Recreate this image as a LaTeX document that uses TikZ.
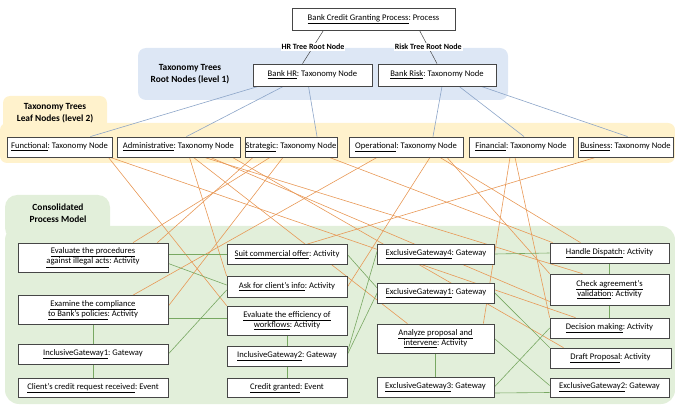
\documentclass[tikz,border=0pt]{standalone}
\usepackage{fontspec}
\setmainfont{Carlito}
\frenchspacing
\definecolor{bluereg}{RGB}{221,231,245}
\definecolor{yellowreg}{RGB}{255,242,204}
\definecolor{greenreg}{RGB}{226,239,218}
\definecolor{oline}{RGB}{232,152,86}
\definecolor{bline}{RGB}{140,165,200}
\definecolor{gline}{RGB}{120,168,98}
\definecolor{boxc}{RGB}{70,70,70}
\pgfdeclarelayer{regions}
\pgfdeclarelayer{edges}
\pgfsetlayers{regions,edges,main}
\begin{document}
\begin{tikzpicture}[x=1pt,y=-1pt,
  box/.style={draw=boxc, fill=white, line width=0.7pt, inner sep=0pt, align=center, font=\fontsize{8.6}{10.5}\selectfont},
  leaf/.style={box, line width=0.9pt, minimum height=20pt},
  reglabel/.style={font=\fontsize{9.4}{12}\selectfont\bfseries, align=center},
  rootlabel/.style={font=\fontsize{8}{9}\selectfont\bfseries, fill=white, inner sep=1pt},
  oe/.style={draw=oline, line width=0.6pt},
  be/.style={draw=bline, line width=0.6pt},
  ge/.style={draw=gline, line width=0.6pt}]
\useasboundingbox (0,0) rectangle (675,406);
% regions
\begin{pgfonlayer}{regions}
\fill[bluereg, rounded corners=8pt] (138,48) rectangle (508,100);
\fill[yellowreg, rounded corners=7pt] (3,96) rectangle (107,135);
\fill[yellowreg, rounded corners=7pt] (0,123) rectangle (675,163);
\fill[greenreg, rounded corners=12pt] (5,195) rectangle (110,240);
\fill[greenreg, rounded corners=14pt] (5,226) rectangle (675,404);
\end{pgfonlayer}
\node[reglabel] (rl1) at (190,74) {Taxonomy Trees\\Root Nodes (level 1)};
\node[reglabel] (rl2) at (55,113) {Taxonomy Trees\\Leaf Nodes (level 2)};
\node[reglabel] (rl3) at (58,213) {Consolidated\\Process Model};
% top nodes
\node[box, minimum width=163pt, minimum height=22pt] (proc) at (373.5,19) {\underline{Bank Credit Granting Process}: Process};
\node[box, minimum width=119pt, minimum height=22pt] (hr) at (312.5,75) {\underline{Bank HR}: Taxonomy Node};
\node[box, minimum width=118pt, minimum height=22pt] (risk) at (437,75) {\underline{Bank Risk}: Taxonomy Node};
% leaf nodes
\node[leaf, minimum width=105pt] (func) at (59.5,147) {\underline{Functional}: Taxonomy Node};
\node[leaf, minimum width=123pt] (adm) at (178.5,147) {\underline{Administrative}: Taxonomy Node};
\node[leaf, minimum width=92pt] (strat) at (291,147) {\underline{Strategic}: Taxonomy Node};
\node[leaf, minimum width=114pt] (oper) at (406,147) {\underline{Operational}: Taxonomy Node};
\node[leaf, minimum width=104pt] (fin) at (521,147) {\underline{Financial}: Taxonomy Node};
\node[leaf, minimum width=95pt] (bus) at (625.5,147) {\underline{Business}: Taxonomy Node};
% process nodes
\node[box, minimum width=150pt, minimum height=29pt] (evp) at (93,257.5) {\underline{Evaluate the procedures}\\\underline{against illegal acts}: Activity};
\node[box, minimum width=150pt, minimum height=29pt] (exc) at (93,310) {\underline{Examine the compliance}\\\underline{to Bank’s policies}: Activity};
\node[box, minimum width=150pt, minimum height=20pt] (ig1) at (93,354) {\underline{InclusiveGateway1}: Gateway};
\node[box, minimum width=150pt, minimum height=19pt] (crr) at (93,388) {\underline{Client’s credit request received}: Event};
\node[box, minimum width=120pt, minimum height=20pt] (sco) at (287,254.5) {\underline{Suit commercial offer}: Activity};
\node[box, minimum width=120pt, minimum height=21pt] (ask) at (287,287) {\underline{Ask for client’s info}: Activity};
\node[box, minimum width=120pt, minimum height=29pt] (eff) at (287,320.5) {\underline{Evaluate the efficiency of}\\\underline{workflows}: Activity};
\node[box, minimum width=120pt, minimum height=20pt] (ig2) at (287,356.5) {\underline{InclusiveGateway2}: Gateway};
\node[box, minimum width=120pt, minimum height=19pt] (cg) at (287,388) {\underline{Credit granted}: Event};
\node[box, minimum width=117pt, minimum height=20pt] (xg4) at (436,254) {\underline{ExclusiveGateway4}: Gateway};
\node[box, minimum width=117pt, minimum height=20pt] (xg1) at (436,293) {\underline{ExclusiveGateway1}: Gateway};
\node[box, minimum width=117pt, minimum height=29pt] (ana) at (435.5,338.5) {\underline{Analyze proposal and}\\\underline{intervene}: Activity};
\node[box, minimum width=117pt, minimum height=20pt] (xg3) at (435.5,387) {\underline{ExclusiveGateway3}: Gateway};
\node[box, minimum width=119pt, minimum height=20pt] (hd) at (609.5,253) {\underline{Handle Dispatch}: Activity};
\node[box, minimum width=119pt, minimum height=31pt] (chk) at (609.5,289.5) {\underline{Check agreement’s}\\\underline{validation}: Activity};
\node[box, minimum width=119pt, minimum height=20pt] (dm) at (609.5,328) {\underline{Decision making}: Activity};
\node[box, minimum width=121pt, minimum height=20pt] (dp) at (610.5,358) {\underline{Draft Proposal}: Activity};
\node[box, minimum width=119pt, minimum height=19pt] (xg2) at (609.5,387.5) {\underline{ExclusiveGateway2}: Gateway};
\begin{pgfonlayer}{edges}
% root connectors
\draw[draw=boxc, line width=0.5pt] ([xshift=-50pt]proc.south) -- node[rootlabel] (hrl) {HR Tree Root Node} ([xshift=-10pt]hr.north);
\draw[draw=boxc, line width=0.5pt] ([xshift=46pt]proc.south) -- node[rootlabel] (rkl) {Risk Tree Root Node} ([xshift=0pt]risk.north);
\draw[be] ([xshift=-54pt]hr.south) -- ([xshift=31pt]func.north);
\draw[be] ([xshift=-29pt]hr.south) -- ([xshift=8pt]adm.north);
\draw[be] ([xshift=-4pt]hr.south) -- ([xshift=26pt]strat.north);
\draw[be] ([xshift=5pt]risk.south) -- ([xshift=27pt]oper.north);
\draw[be] ([xshift=22pt]risk.south) -- ([xshift=3pt]fin.north);
\draw[be] ([xshift=44pt]risk.south) -- ([xshift=2pt]bus.north);
% orange connectors
\draw[oe] ([xshift=-4pt]func.south east) -- (eff.north west);
\draw[oe] ([xshift=-2pt]func.south east) -- ([xshift=-34pt]dm.north);
\draw[oe] ([xshift=11pt]adm.south) -- (ask.north west);
\draw[oe] ([xshift=15pt]adm.south) -- ([xshift=-28pt]ana.north);
\draw[oe] ([xshift=26pt]adm.south) -- ([xshift=-27pt]chk.north);
\draw[oe] ([xshift=32pt]adm.south) -- ([yshift=-12pt]chk.west);
\draw[oe] ([xshift=54pt]adm.south) -- ([xshift=-47pt]dp.north);
\draw[oe] ([xshift=-38pt]strat.south) -- ([xshift=-11pt]evp.north east);
\draw[oe] ([xshift=-21pt]strat.south) -- ([xshift=40pt]evp.north);
\draw[oe] ([xshift=-8pt]strat.south) -- ([yshift=4pt]exc.east);
\draw[oe] ([xshift=-8pt]strat.south east) -- ([xshift=3pt]hd.north west);
\draw[oe] ([xshift=-29pt]oper.south) -- ([xshift=40pt]exc.north);
\draw[oe] ([xshift=24pt]oper.south) -- (ask.east);
\draw[oe] ([xshift=34pt]oper.south) -- ([xshift=-29pt]hd.north);
\draw[oe] ([xshift=41pt]oper.south) -- (chk.north west);
\draw[oe] ([xshift=-11pt]fin.south) -- ([xshift=-11pt]ana.north east);
\draw[oe] ([xshift=-6pt]fin.south) -- (dm.north west);
\draw[oe] ([xshift=-30pt]bus.south) -- ([xshift=20pt]sco.north);
% green connectors
\draw[ge] (sco.west -| evp.east) -- (sco.west);
\draw[ge] ([yshift=-6pt]evp.east) -- ([yshift=2pt]ask.west);
\draw[ge] ([yshift=-8pt]exc.east) -- ([yshift=2.5pt]eff.west);
\draw[ge] (exc.south) -- (ig1.north);
\draw[ge] (ig1.south) -- (crr.north);
\draw[ge] (ig1.east) -- ([yshift=-3pt]ask.west);
\draw[ge] (eff.south) -- (ig2.north);
\draw[ge] (ig2.south) -- (cg.north);
\draw[ge] ([yshift=4pt]ig2.east) -- ([yshift=3pt]xg4.west);
\draw[ge] ([yshift=2pt]ig2.east) -- (xg1.west);
\draw[ge] (sco.east) -- ([yshift=5pt]xg1.west);
\draw[ge] (xg4.east) -- (hd.west);
\draw[ge] (hd.south) -- (chk.north);
\draw[ge] (chk.south) -- (dm.north);
\draw[ge] (xg1.east) -- (dp.north west);
\draw[ge] (ana.east) -- ([yshift=2pt]xg2.west);
\draw[ge] (ana.south) -- (xg3.north);
\draw[ge] (xg3.east) -- (dm.west);
\draw[ge] ([yshift=-6pt]xg3.east) -- ([yshift=-5pt]xg2.west);
\end{pgfonlayer}
\end{tikzpicture}
\end{document}
